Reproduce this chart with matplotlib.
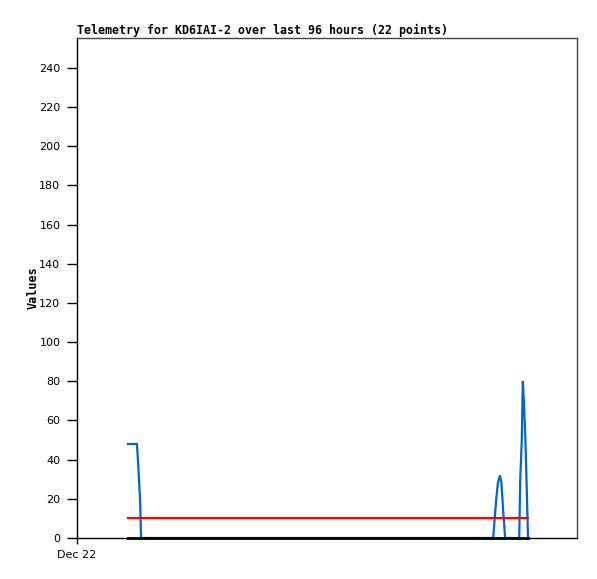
import matplotlib
matplotlib.use('Agg')
from matplotlib import pyplot as plt

# telemetry samples, hours after Dec 22 00:00
hours = [9.8, 11.5, 11.7, 11.9, 12.1, 12.3, 79.9, 80.2, 80.5, 80.8, 81.2,
         81.5, 81.8, 82.2, 84.9, 85.1, 85.4, 85.6, 85.8, 86.1, 86.3, 86.6]
values = [48, 48, 40, 30, 20, 0, 0, 10, 20, 28, 32,
          28, 15, 0, 0, 30, 50, 80, 70, 50, 30, 0]
zero_line = [0, 0]
red_line = [10, 10]
span = [9.8, 86.6]
yticks = list(range(0, 241, 20))

fig = plt.figure(figsize=(5.97, 5.79), dpi=100)
ax = fig.add_axes([77/597, 41/579, 500/597, 500/579])
ax.plot(hours, values, color='#0066cc', lw=1.6, solid_joinstyle='miter')
ax.plot(span, red_line, color='#ff0000', lw=1.6)
ax.plot(span, zero_line, color='black', lw=2.0, clip_on=False)

ax.set_xlim(0, 96)
ax.set_ylim(0, 255.3)
ax.set_yticks(yticks)
ax.set_xticks([0])
ax.set_xticklabels(['Dec 22'])
ax.tick_params(axis='y', direction='out', length=7, width=1, labelsize=8, pad=5)
ax.tick_params(axis='x', direction='out', length=4, width=1, labelsize=8, pad=5)
for s in ['left', 'bottom']:
    ax.spines[s].set_linewidth(1)
for s in ['top', 'right']:
    ax.spines[s].set_color('#444444')
    ax.spines[s].set_linewidth(1)
ax.set_ylabel('Values', family='DejaVu Sans Mono', fontweight='bold', fontsize=8.5)
ax.yaxis.set_label_coords(-0.074, 0.5)
ax.set_title('Telemetry for KD6IAI-2 over last 96 hours (22 points)',
             family='DejaVu Sans Mono', fontweight='bold', fontsize=8.35, loc='left', pad=3)
fig.savefig('out.png', dpi=100)
